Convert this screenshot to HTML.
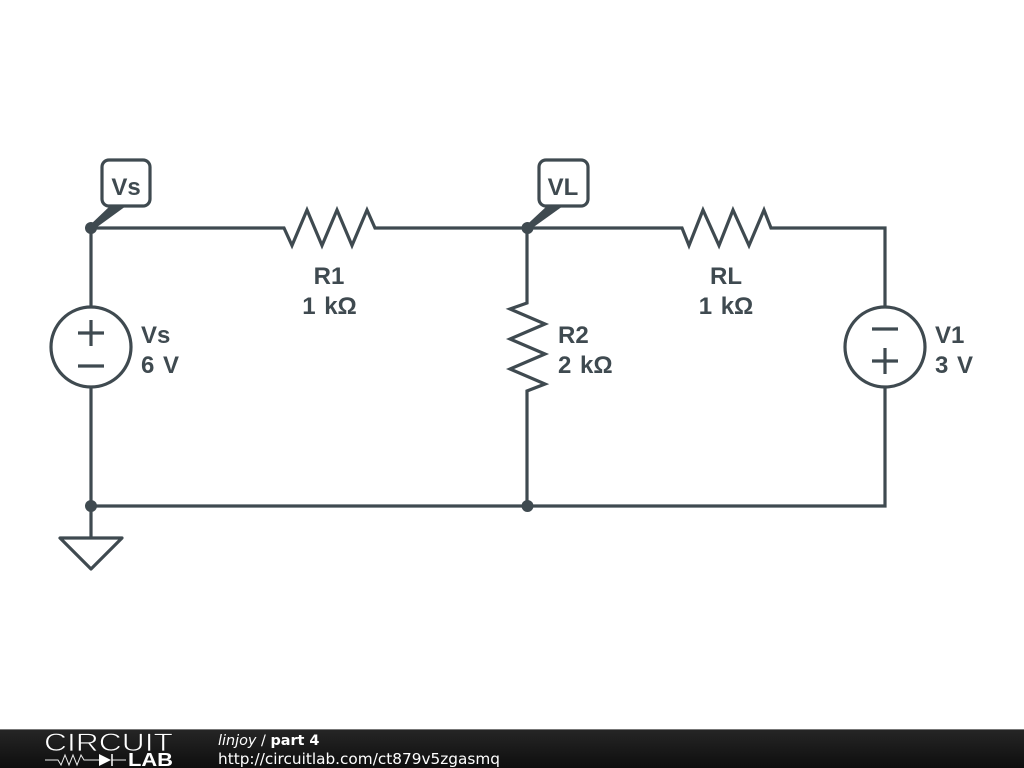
<!DOCTYPE html>
<html><head><meta charset="utf-8"><style>
html,body{margin:0;padding:0;background:#fff;width:1024px;height:768px;overflow:hidden}
svg{display:block}
.l{font-family:"Liberation Sans",sans-serif;font-weight:bold;font-size:24px;word-spacing:2px;fill:#3f4a50}
.f{font-family:"DejaVu Sans",sans-serif;font-size:14.4px;fill:#fff}
</style></head><body>
<svg width="1024" height="768" viewBox="0 0 1024 768" xmlns="http://www.w3.org/2000/svg">
<defs><linearGradient id="g" x1="0" y1="0" x2="0" y2="1"><stop offset="0" stop-color="#262626"/><stop offset="1" stop-color="#0e0e0e"/></linearGradient></defs>
<g fill="none" stroke="#3f4a50" stroke-width="3.200" stroke-linejoin="miter" stroke-linecap="butt">
<path d="M91 307V228H284L292 245.500L307 210L322 245.500L337 210L352 245.500L367 210L375 228H682L689 245.500L703 210L719 245.500L733 210L749 245.500L764 210L771 228H885V307"/>
<path d="M527 228V303L510 309L545 324L510 339L545 354L510 369L545 384L527 391V506"/>
<path d="M91 387V538M885 387V506H91"/>
<circle cx="91" cy="347" r="40"/>
<circle cx="885" cy="347" r="40"/>
<path d="M78 333H104M91 320V346M78 366H104"/>
<path d="M872 329H898M872 361H898M885 348V374"/>
<path d="M60 538H122L91 569Z" stroke-linejoin="round"/>
<rect x="102" y="160" width="48" height="46" rx="7" fill="#fff"/>
<rect x="539" y="160" width="49" height="46" rx="7" fill="#fff"/>
</g>
<g fill="#3f4a50">
<circle cx="91" cy="228" r="6"/>
<circle cx="527.500" cy="228" r="6"/>
<circle cx="91" cy="506" r="6"/>
<circle cx="527.500" cy="506" r="6"/>
<path d="M89 226L110 206H126L93 230Z"/>
<path d="M525.500 226L547 206H563L529.500 230Z"/>
</g>
<text class="l" x="126" y="195" text-anchor="middle">Vs</text>
<text class="l" x="563" y="195" text-anchor="middle">VL</text>
<text class="l" x="329" y="284" text-anchor="middle">R1</text>
<text class="l" x="329.500" y="314" text-anchor="middle">1 kΩ</text>
<text class="l" x="726" y="284" text-anchor="middle">RL</text>
<text class="l" x="726" y="314" text-anchor="middle">1 kΩ</text>
<text class="l" x="558" y="343">R2</text>
<text class="l" x="558" y="373">2 kΩ</text>
<text class="l" x="141" y="343">Vs</text>
<text class="l" x="141" y="373">6 V</text>
<text class="l" x="935" y="343">V1</text>
<text class="l" x="935" y="373">3 V</text>
<rect x="0" y="729" width="1024" height="39" fill="url(#g)"/>
<rect x="0" y="729" width="1024" height="1" fill="#777"/>
<text x="44" y="751" font-family="Liberation Sans,sans-serif" font-size="25" fill="#fff" stroke="#1c1c1c" stroke-width="0.700" textLength="129" lengthAdjust="spacingAndGlyphs">CIRCUIT</text>
<text x="128" y="766" font-family="Liberation Sans,sans-serif" font-size="18" font-weight="bold" fill="#fff" textLength="45" lengthAdjust="spacingAndGlyphs">LAB</text>
<path d="M45 760H58L61 765L65 755L69 765L73 755L77 765L81 755L84 760H100M112 760H126" fill="none" stroke="#eee" stroke-width="1"/>
<path d="M99 754L111 760L99 766Z" fill="#fff"/>
<path d="M112 754V766" stroke="#fff" stroke-width="1.500"/>
<text class="f" x="218" y="745"><tspan font-style="italic">linjoy</tspan> / <tspan font-weight="bold">part 4</tspan></text>
<text class="f" x="218" y="764" style="font-size:15.300px">http://circuitlab.com/ct879v5zgasmq</text>
</svg>
</body></html>
